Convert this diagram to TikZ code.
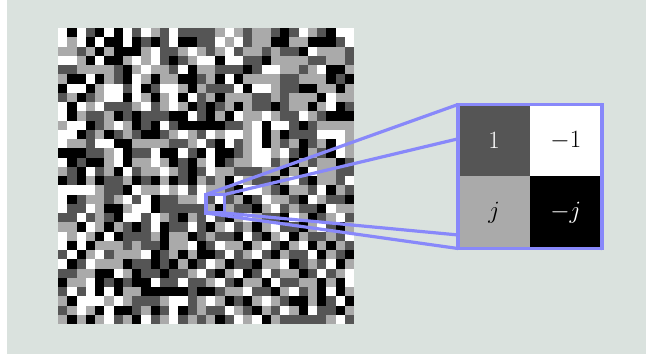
\documentclass[tikz,border=0pt]{standalone}
\usepackage{tikz}
\definecolor{bgc}{RGB}{218,226,222}
\definecolor{g0}{RGB}{0,0,0}
\definecolor{g1}{RGB}{85,85,85}
\definecolor{g2}{RGB}{170,170,170}
\definecolor{g3}{RGB}{255,255,255}
\definecolor{zoomblue}{RGB}{136,136,250}
\tikzset{
  zoomline/.style={draw=zoomblue, line width=3.2pt},
  bigcell/.style={minimum size=72pt, inner sep=0pt, font=\fontsize{25}{28}\selectfont},
  frame/.style={minimum size=#1, inner sep=0pt, outer sep=0pt}
}
\begin{document}
\begin{tikzpicture}[x=1pt,y=-1pt]
\useasboundingbox (0,0) rectangle (646,354);
\fill[white] (0,0) rectangle (7,354);
\fill[bgc] (7,0) rectangle (646,354);
% 32x32 grid
\foreach \rowvals [count=\r from 0] in {
{3,0,3,1,0,3,0,3,1,3,2,1,3,1,1,1,1,2,3,2,1,2,2,1,0,1,3,2,1,0,3,3},
{3,2,3,0,3,0,0,3,0,1,0,1,3,0,0,1,1,3,2,3,1,2,2,0,0,2,2,0,0,0,1,3},
{2,2,1,2,0,2,0,0,0,2,3,1,1,2,3,2,1,2,3,1,2,2,1,2,1,1,0,3,2,2,2,1},
{3,3,2,0,3,0,0,2,3,2,3,1,0,1,2,3,3,0,3,3,1,1,0,2,2,2,2,1,1,2,2,1},
{1,1,2,2,2,2,1,0,2,3,2,2,1,3,0,2,2,1,1,1,0,1,3,3,2,2,1,2,3,0,0,2},
{2,0,0,3,0,2,1,0,3,2,0,2,2,0,0,1,2,0,3,0,2,2,2,2,1,1,2,2,2,0,1,0},
{0,3,3,0,2,3,3,1,3,0,1,3,3,2,0,2,1,1,1,3,0,3,3,2,1,1,0,0,2,2,0,2},
{1,2,0,1,2,3,3,0,3,2,0,2,3,0,3,1,2,0,2,2,2,1,1,2,1,2,2,2,0,3,2,2},
{3,0,3,2,3,1,1,1,2,3,1,2,3,2,0,1,0,1,2,0,2,1,1,0,1,2,2,0,2,3,0,1},
{3,0,2,1,1,2,0,1,0,1,1,1,0,0,3,1,0,2,0,3,2,2,3,2,1,1,3,2,1,0,0,0},
{2,3,3,0,1,2,3,2,0,1,0,3,1,0,0,0,0,0,1,1,2,3,0,3,3,1,0,1,2,2,2,2},
{3,3,0,1,2,0,1,2,1,0,0,1,2,3,2,1,3,2,3,3,2,3,0,2,0,1,1,1,3,3,3,2},
{3,2,2,1,3,3,0,0,2,2,2,2,1,1,2,3,1,0,3,1,2,3,0,2,1,2,0,1,2,0,3,2},
{0,0,0,1,1,2,3,0,1,1,3,0,0,3,1,0,3,0,0,1,2,3,3,2,3,1,0,2,1,0,3,2},
{3,0,1,0,0,2,3,0,2,2,3,2,0,1,0,2,3,0,1,2,2,3,3,1,2,0,2,1,2,2,0,1},
{2,1,0,3,1,2,0,3,1,2,2,3,2,1,0,1,3,2,2,1,1,1,2,2,0,2,0,3,2,2,1,1},
{0,1,0,2,0,1,1,2,0,1,0,2,0,1,0,2,1,2,0,3,2,1,1,0,2,3,1,0,2,2,1,3},
{3,3,3,3,2,1,1,0,3,2,2,3,2,3,1,3,2,2,1,0,3,3,2,1,0,2,2,1,3,0,2,1},
{3,0,1,2,2,1,2,3,1,3,0,1,1,2,2,3,1,3,1,2,0,1,3,2,2,1,0,3,2,1,1,0},
{3,1,1,3,2,0,0,2,3,3,0,1,1,1,1,1,2,0,2,1,1,0,2,3,1,2,1,1,0,3,2,2},
{1,1,3,1,2,1,0,3,3,1,3,2,1,0,2,1,3,1,0,2,3,2,1,1,0,3,2,0,1,2,3,1},
{2,2,0,3,2,0,2,1,0,1,3,0,1,1,3,1,0,2,3,1,2,0,2,3,1,1,0,2,3,1,0,2},
{3,2,3,2,0,3,0,1,1,1,2,0,2,2,0,1,2,1,1,0,3,1,0,2,3,0,2,1,1,2,1,3},
{3,0,3,0,2,2,2,1,2,1,1,0,2,2,3,0,1,3,2,2,0,2,3,1,0,2,3,0,2,0,2,1},
{1,3,0,2,3,1,2,2,2,3,0,1,2,0,2,0,0,1,3,1,2,3,1,0,2,1,1,3,0,2,1,0},
{3,0,1,3,2,2,2,0,1,1,0,1,0,2,0,1,3,2,0,1,1,0,2,2,3,0,1,2,1,3,0,2},
{1,1,2,2,0,0,3,2,0,1,1,0,1,1,2,3,1,0,2,3,0,1,3,1,2,2,0,1,3,1,2,3},
{0,2,2,3,0,1,0,1,0,0,3,1,1,3,1,1,2,3,1,0,2,2,0,3,1,1,2,2,0,2,0,3},
{1,3,1,3,0,3,0,2,2,0,0,0,0,0,1,0,0,1,2,2,3,1,1,0,2,3,1,2,0,3,0,2},
{2,0,3,3,3,2,3,2,1,1,1,2,3,3,1,2,3,2,0,1,0,2,3,2,1,0,0,2,0,1,3,0},
{1,2,3,2,0,3,0,0,1,2,0,1,3,0,1,2,1,1,3,2,1,0,2,1,3,2,0,3,1,1,0,2},
{2,0,2,0,2,3,1,2,0,3,1,2,3,1,2,1,2,0,1,3,2,3,0,2,1,1,1,1,1,2,3,1}}{
  \foreach \v [count=\c from 0] in \rowvals {
    \fill[fill=g\v] ({58+\c*9.25},{28+\r*9.25}) rectangle ++(9.3,9.3);
  }
}
% frames (placeholders for anchors)
\node[frame=18.5pt] (small) at (215.25,203.75) {};
\node[frame=144pt] (big) at (530,176.5) {};
% zoom connectors
\draw[zoomline] (small.north west) -- (big.north west);
\draw[zoomline] (small.north east) -- (big.north east);
\draw[zoomline] (small.south west) -- (big.south west);
\draw[zoomline] (small.south east) -- (big.south east);
\draw[zoomline] (small.north west) rectangle (small.south east);
% magnified cells
\node[bigcell, fill=g1, text=white, anchor=north west] (c11) at (big.north west) {$1$};
\node[bigcell, fill=g3, text=black, anchor=north east] (c12) at (big.north east) {$-1$};
\node[bigcell, fill=g2, text=black, anchor=south west] (c21) at (big.south west) {$j$};
\node[bigcell, fill=g0, text=white, anchor=south east] (c22) at (big.south east) {$-j$};
\draw[zoomline] (big.north west) rectangle (big.south east);
\end{tikzpicture}
\end{document}
